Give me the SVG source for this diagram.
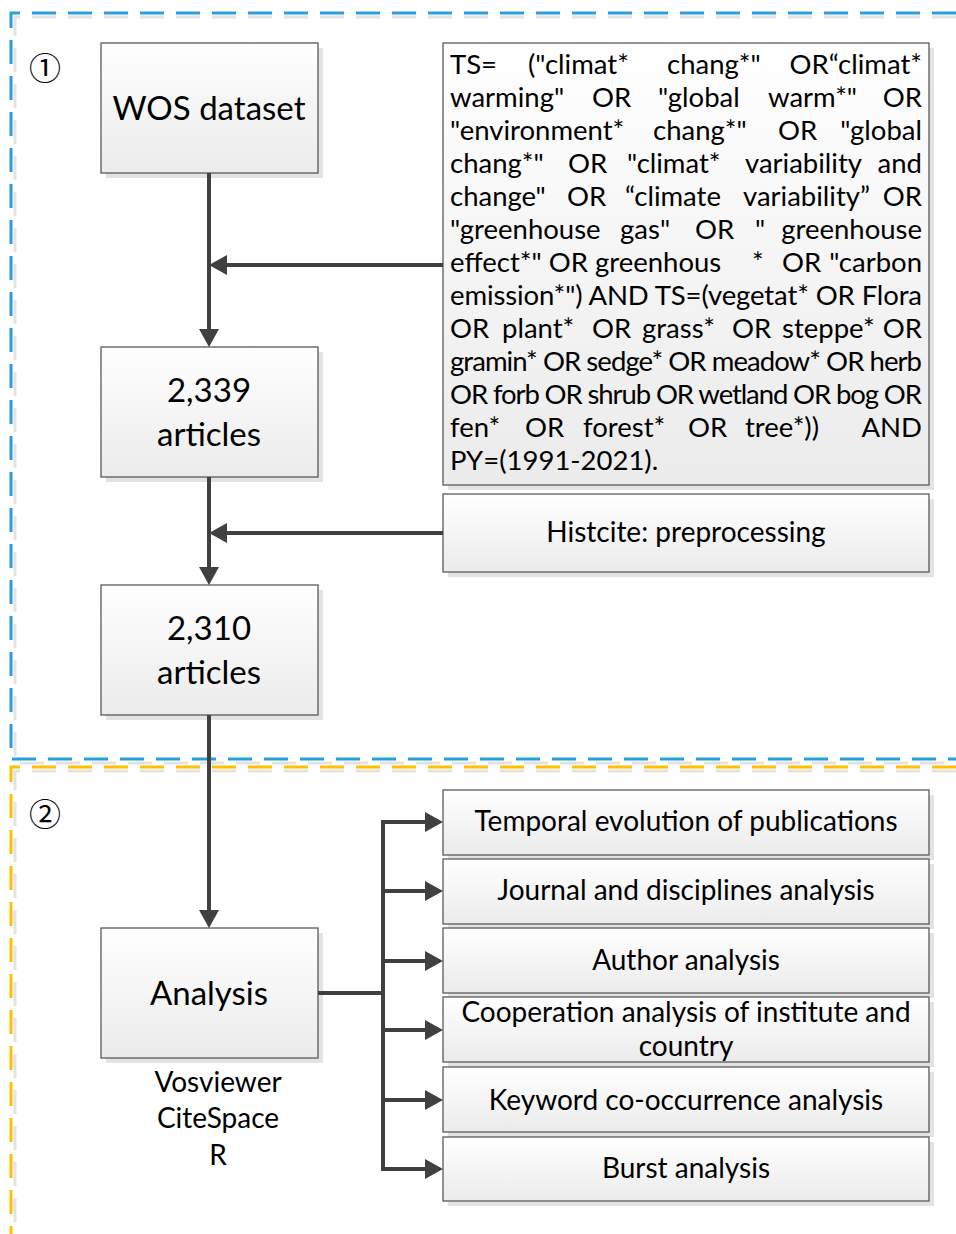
<svg xmlns="http://www.w3.org/2000/svg" width="956" height="1234" viewBox="0 0 956 1234">
<defs>
<linearGradient id="g" x1="0" y1="0" x2="0" y2="1"><stop offset="0" stop-color="#ffffff"/><stop offset="1" stop-color="#ebebeb"/></linearGradient>
<marker id="ah" viewBox="0 0 18 20" refX="14" refY="10" markerWidth="18" markerHeight="20" markerUnits="userSpaceOnUse" orient="auto"><path d="M0,0 L18,10 L0,20 z" fill="#404040"/></marker>
</defs>
<style>
.box{fill:url(#g);stroke:#5a5a5a;stroke-width:1.3}
.sh{fill:#e3e3e3}
.t{font-family:Lato,"Liberation Sans",sans-serif;fill:#000}
.big{font-size:33px;text-anchor:middle}
.md{font-size:28px;text-anchor:middle}
.q{font-size:27.5px}
.e{text-anchor:end}
.c{fill:none;stroke:#404040;stroke-width:4}
.ca{fill:none;stroke:#404040;stroke-width:4;marker-end:url(#ah)}
.num{font-family:"Noto Sans CJK SC","DejaVu Sans",sans-serif;font-size:32px;text-anchor:middle;fill:#000}
</style>
<rect width="956" height="1234" fill="#ffffff"/>
<g id="frames" fill="none" stroke-width="3" stroke-dasharray="24 12">
<path d="M956,17 H15 V763 H956" stroke="#e3e3e3"/>
<path d="M956,13 H11 V759 H956" stroke="#26a0da"/>
<path d="M956,771 H15 V1234" stroke="#e3e3e3"/>
<path d="M956,767 H11 V1234" stroke="#ffc000"/>
</g>
<text class="num" x="45" y="80">①</text>
<text class="num" x="45" y="826">②</text>
<g id="wos"><rect class="sh" x="106" y="48" width="217" height="130"/><rect class="box" x="101" y="43" width="217" height="130"/><text class="t big" x="209" y="120">WOS dataset</text></g>
<g id="n2339"><rect class="sh" x="106" y="352" width="217" height="130"/><rect class="box" x="101" y="347" width="217" height="130"/><text class="t big" x="209" y="402">2,339</text><text class="t big" x="209" y="446">articles</text></g>
<g id="n2310"><rect class="sh" x="106" y="590" width="217" height="130"/><rect class="box" x="101" y="585" width="217" height="130"/><text class="t big" x="209" y="640">2,310</text><text class="t big" x="209" y="684">articles</text></g>
<g id="analysis"><rect class="sh" x="106" y="933" width="217" height="130"/><rect class="box" x="101" y="928" width="217" height="130"/><text class="t big" x="209" y="1005">Analysis</text></g>
<g id="tools"><text class="t md" x="218" y="1092">Vosviewer</text><text class="t md" x="218" y="1128">CiteSpace</text><text class="t md" x="218" y="1165">R</text></g>
<g id="query"><rect class="sh" x="448" y="48" width="486" height="442"/><rect class="box" x="443" y="43" width="486" height="442"/>
<g class="t q">
<text x="450" y="74">TS=</text><text x="528" y="74">("climat*</text><text x="667" y="74">chang*"</text><text class="e" x="922" y="74">OR“climat*</text>
<text x="450" y="107">warming"</text><text x="592" y="107">OR</text><text x="658" y="107">"global</text><text x="768" y="107">warm*"</text><text class="e" x="922" y="107">OR</text>
<text x="450" y="140">"environment*</text><text x="653" y="140">chang*"</text><text x="778" y="140">OR</text><text class="e" x="922" y="140">"global</text>
<text x="450" y="173">chang*"</text><text x="568" y="173">OR</text><text x="627" y="173">"climat*</text><text x="745" y="173">variability</text><text class="e" x="922" y="173">and</text>
<text x="450" y="206">change"</text><text x="567" y="206">OR</text><text x="625" y="206">“climate</text><text x="743" y="206">variability”</text><text class="e" x="922" y="206">OR</text>
<text x="450" y="239">"greenhouse</text><text x="620" y="239">gas"</text><text x="695" y="239">OR</text><text x="755" y="239">"</text><text class="e" x="922" y="239">greenhouse</text>
<text x="450" y="272">effect*" OR greenhous</text><text x="752" y="272">*</text><text x="782" y="272">OR</text><text class="e" x="922" y="272">"carbon</text>
<text x="450" y="305" textLength="472" lengthAdjust="spacing">emission*") AND TS=(vegetat* OR Flora</text>
<text x="450" y="338">OR</text><text x="502" y="338">plant*</text><text x="592" y="338">OR</text><text x="642" y="338">grass*</text><text x="732" y="338">OR</text><text x="782" y="338">steppe*</text><text class="e" x="922" y="338">OR</text>
<text x="450" y="371" textLength="472" lengthAdjust="spacing">gramin* OR sedge* OR meadow* OR herb</text>
<text x="450" y="404" textLength="472" lengthAdjust="spacing">OR forb OR shrub OR wetland OR bog OR</text>
<text x="450" y="437">fen*</text><text x="525" y="437">OR</text><text x="583" y="437">forest*</text><text x="688" y="437">OR</text><text x="745" y="437">tree*))</text><text class="e" x="922" y="437">AND</text>
<text x="450" y="470">PY=(1991-2021).</text>
</g></g>
<g id="histcite"><rect class="sh" x="448" y="499" width="486" height="78"/><rect class="box" x="443" y="494" width="486" height="78"/><text class="t md" x="686" y="542">Histcite: preprocessing</text></g>
<g id="temporal"><rect class="sh" x="448" y="795" width="486" height="65"/><rect class="box" x="443" y="790" width="486" height="65"/><text class="t md" x="686" y="831">Temporal evolution of publications</text></g>
<g id="journal"><rect class="sh" x="448" y="864" width="486" height="65"/><rect class="box" x="443" y="859" width="486" height="65"/><text class="t md" x="686" y="900">Journal and disciplines analysis</text></g>
<g id="author"><rect class="sh" x="448" y="933" width="486" height="65"/><rect class="box" x="443" y="928" width="486" height="65"/><text class="t md" x="686" y="970">Author analysis</text></g>
<g id="cooperation"><rect class="sh" x="448" y="1002" width="486" height="65"/><rect class="box" x="443" y="997" width="486" height="65"/><text class="t md" x="686" y="1022">Cooperation analysis of institute and</text><text class="t md" x="686" y="1056">country</text></g>
<g id="keyword"><rect class="sh" x="448" y="1072" width="486" height="65"/><rect class="box" x="443" y="1067" width="486" height="65"/><text class="t md" x="686" y="1110">Keyword co-occurrence analysis</text></g>
<g id="burst"><rect class="sh" x="448" y="1142" width="486" height="64"/><rect class="box" x="443" y="1137" width="486" height="64"/><text class="t md" x="686" y="1178">Burst analysis</text></g>
<g id="connectors">
<path class="ca" d="M209,173 V343"/>
<path class="ca" d="M443,265 H213"/>
<path class="ca" d="M209,477 V581"/>
<path class="ca" d="M443,533 H213"/>
<path class="ca" d="M209,715 V924"/>
<path class="c" d="M318,993 H383"/>
<path class="c" d="M383,820 V1171"/>
<path class="ca" d="M381,822 H439"/>
<path class="ca" d="M381,891 H439"/>
<path class="ca" d="M381,961 H439"/>
<path class="ca" d="M381,1030 H439"/>
<path class="ca" d="M381,1100 H439"/>
<path class="ca" d="M381,1169 H439"/>
</g>
</svg>
